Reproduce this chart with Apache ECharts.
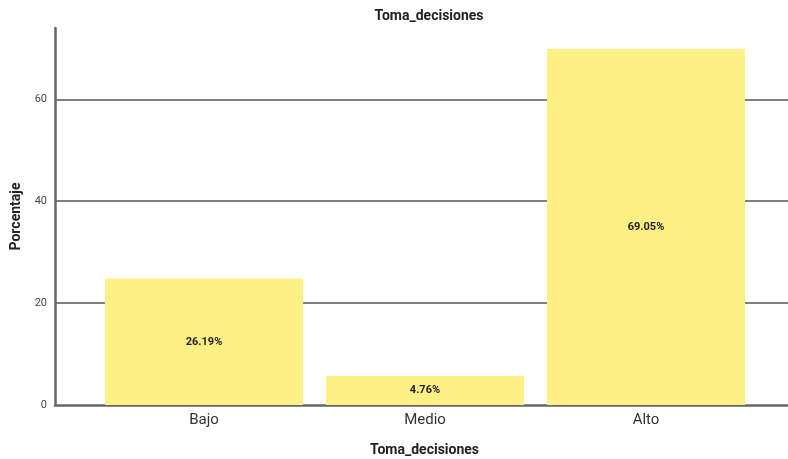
<!DOCTYPE html>
<html>
<head>
<meta charset="utf-8">
<script src="https://cdn.jsdelivr.net/npm/echarts@6/dist/echarts.min.js"></script>
<style>
  html, body { margin: 0; padding: 0; background: #fff; }
  #main { width: 788px; height: 459px; }
</style>
</head>
<body>
<div id="main"></div>
<script>
// categorias y valores
var categorias = ['Bajo', 'Medio', 'Alto'];
var alturas = [24.8, 5.7, 69.9];          // altura de las barras
var etiquetas = ['26.19%', '4.76%', '69.05%'];
var yTicks = [0, 20, 40, 60];

var chart = echarts.init(document.getElementById('main'));
var option = {
  animation: false,
  textStyle: { fontFamily: 'Roboto' },
  title: {
    text: 'Toma_decisiones',
    left: 424, top: 4, textAlign: 'center',
    textStyle: { fontSize: 14, fontWeight: 'bold', color: '#222', fontFamily: 'Roboto' }
  },
  grid: [
    { left: 55, right: 0, top: 28, bottom: 54, outerBoundsMode: 'none', containLabel: false },     // ejes y lineas
    { left: 93.5, right: 31.5, top: 28, bottom: 54, outerBoundsMode: 'none', containLabel: false } // barras
  ],
  xAxis: [
    {
      gridIndex: 0, type: 'value', min: 0, max: 1,
      axisLine: { show: true, onZero: false, lineStyle: { color: '#666', width: 2.5 } },
      axisTick: { show: false }, axisLabel: { show: false }, splitLine: { show: false },
      name: 'Toma_decisiones', nameLocation: 'middle', nameGap: 38,
      nameTextStyle: { fontSize: 14, fontWeight: 'bold', color: '#222', padding: [0, 0, 0, 6] }
    },
    {
      gridIndex: 1, type: 'category', data: categorias,
      axisLine: { show: false }, axisTick: { show: false },
      axisLabel: { fontSize: 15, color: '#333', margin: 8 }
    }
  ],
  yAxis: [
    {
      gridIndex: 0, type: 'value', min: 0, max: 74, interval: 20,
      axisLine: { show: true, lineStyle: { color: '#666', width: 2.5 } },
      axisTick: { show: false },
      axisLabel: {
        fontSize: 11, color: '#444', margin: 8, showMaxLabel: false,
        formatter: function (v) { return yTicks.indexOf(v) >= 0 ? v : ''; }
      },
      splitLine: { show: true, showMaxLine: false, showMinLine: false, lineStyle: { color: '#555', width: 1.5 } },
      name: 'Porcentaje', nameLocation: 'middle', nameGap: 32, nameRotate: 90,
      nameTextStyle: { fontSize: 14, fontWeight: 'bold', color: '#222' }
    },
    {
      gridIndex: 1, type: 'value', min: 0, max: 74,
      show: false, splitLine: { show: false }
    }
  ],
  series: [
    {
      type: 'bar', xAxisIndex: 1, yAxisIndex: 1,
      data: alturas, barWidth: 198,
      itemStyle: { color: '#fef085' },
      label: {
        show: true, position: 'inside',
        fontSize: 11, fontWeight: 'bold', color: '#222',
        formatter: function (p) { return etiquetas[p.dataIndex]; }
      }
    }
  ]
};
chart.setOption(option);
</script>
</body>
</html>
